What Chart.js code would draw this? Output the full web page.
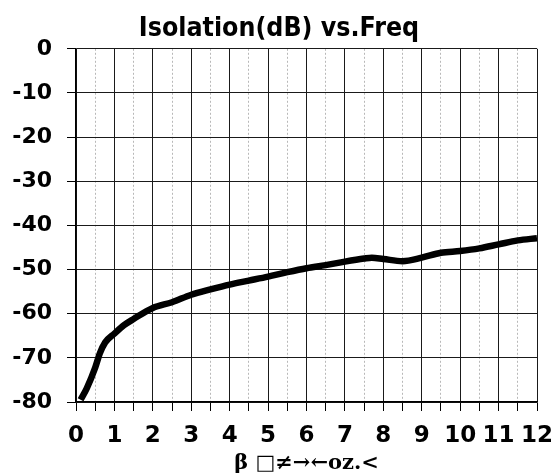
<!DOCTYPE html>
<html>
<head>
<meta charset="utf-8">
<script src="https://cdn.jsdelivr.net/npm/chart.js@4/dist/chart.umd.min.js"></script>
<style>
  html, body { margin: 0; padding: 0; background: #fff; }
  #wrap { width: 556px; height: 476px; }
</style>
</head>
<body>
<div id="wrap"><canvas id="IsoChart"></canvas></div>
<script>
var FreqPoints = [0.12, 0.28, 0.5, 0.62, 0.76, 1, 1.25, 1.5, 2, 2.5, 3, 3.5, 4, 4.5, 5, 5.5, 6, 6.5, 7, 7.5, 7.7, 8, 8.5, 9, 9.5, 10, 10.5, 11, 11.5, 12];
var Isolation = [-79.5, -76.9, -72.2, -69.0, -66.5, -64.5, -62.6, -61.2, -58.7, -57.4, -55.7, -54.5, -53.4, -52.5, -51.6, -50.6, -49.7, -49.0, -48.2, -47.5, -47.3, -47.6, -48.1, -47.3, -46.2, -45.8, -45.2, -44.3, -43.4, -42.9];
var YTicks = [0, -10, -20, -30, -40, -50, -60, -70, -80];
var XTicks = [0, 1, 2, 3, 4, 5, 6, 7, 8, 9, 10, 11, 12];

var Points = [];
for (var i = 0; i < FreqPoints.length; i++) {
    Points.push({ x: FreqPoints[i], y: Isolation[i] });
}

function isMajor(ctx) {
    return ctx.tick && Math.abs(ctx.tick.value - Math.round(ctx.tick.value)) < 1e-6;
}

var TickFamily = "'DejaVu Sans', Verdana, sans-serif";

var canvasIso = document.getElementById("IsoChart").getContext('2d');
var isoChart = new Chart(canvasIso, {
    type: 'line',
    data: {
        datasets: [{
            label: 'Isolation',
            data: Points,
            borderColor: '#000',
            borderWidth: 6.5,
            pointRadius: 0,
            cubicInterpolationMode: 'monotone',
            fill: false
        }]
    },
    options: {
        responsive: true,
        maintainAspectRatio: false,
        animation: false,
        layout: { padding: { left: 2, right: 0, top: 13, bottom: 0 } },
        plugins: {
            legend: { display: false },
            tooltip: { enabled: false },
            title: {
                display: true,
                text: 'Isolation(dB) vs.Freq',
                color: '#000',
                font: { family: "'DejaVu Sans Condensed', 'DejaVu Sans', sans-serif", size: 26.5, weight: 'bold' },
                padding: { top: 0, bottom: 4 }
            }
        },
        scales: {
            x: {
                type: 'linear',
                min: 0,
                max: 12,
                afterBuildTicks: function (axis) {
                    var t = [];
                    for (var v = 0; v <= 24; v++) t.push({ value: v / 2 });
                    axis.ticks = t;
                },
                afterFit: function (axis) {
                    // fixed right margin, last label may hang over it
                    axis.paddingLeft = 0;
                    axis.paddingRight = 19;
                },
                ticks: {
                    autoSkip: false,
                    maxRotation: 0,
                    color: '#000',
                    font: { family: TickFamily, size: 23, weight: 'bold', lineHeight: 1.1 },
                    padding: 12,
                    callback: function (v) { return XTicks.indexOf(v) >= 0 ? String(v) : ''; }
                },
                grid: {
                    color: function (ctx) { return isMajor(ctx) ? '#1a1a1a' : '#b8b8b8'; },
                    tickColor: '#000',
                    tickLength: 9,
                    lineWidth: 1
                },
                border: {
                    display: true,
                    color: '#000',
                    width: 1.5,
                    dash: function (ctx) { return isMajor(ctx) ? [] : [2, 2]; }
                },
                title: {
                    display: true,
                    text: 'β □≠→←οz.<',
                    color: '#000',
                    font: { family: "'DejaVu Serif', serif", size: 21, weight: 'bold' },
                    padding: { top: -9.5, bottom: 0 }
                }
            },
            y: {
                type: 'linear',
                min: -80,
                max: 0,
                afterBuildTicks: function (axis) {
                    axis.ticks = YTicks.map(function (v) { return { value: v }; });
                },
                afterFit: function (axis) {
                    axis.width = 74;
                },
                ticks: {
                    color: '#000',
                    font: { family: TickFamily, size: 22, weight: 'bold' },
                    padding: 15
                },
                grid: {
                    color: '#1a1a1a',
                    tickColor: '#000',
                    tickLength: 9,
                    lineWidth: 1
                },
                border: { display: true, color: '#000', width: 1.5 }
            }
        }
    }
});
</script>
</body>
</html>
